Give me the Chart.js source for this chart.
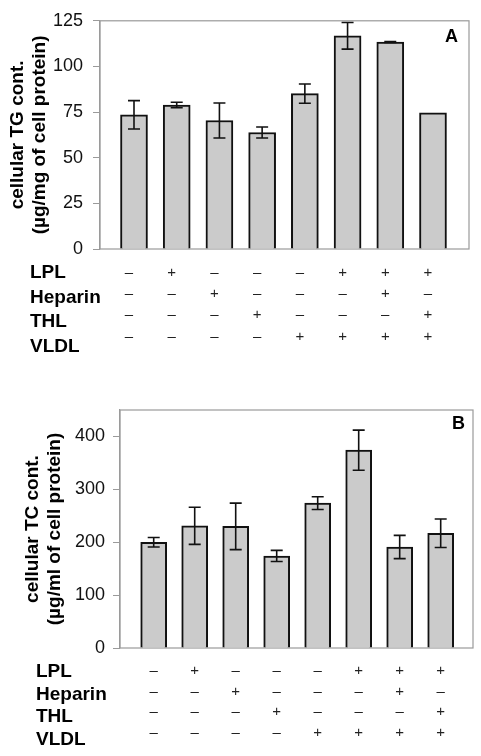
<!DOCTYPE html>
<html lang="en">
<head>
<meta charset="UTF-8">
<title>Cellular TG and TC content</title>
<script src="https://cdn.jsdelivr.net/npm/chart.js"></script>
<style>
  body { margin: 0; background: #fff; }
  canvas { position: absolute; left: 0; }
</style>
</head>
<body>
<canvas id="chartA" width="481" height="370" style="top:0"></canvas>
<canvas id="chartB" width="481" height="386" style="top:370px"></canvas>

<script>
// groups 1..8 (one per treatment column)
const groups = [1, 2, 3, 4, 5, 6, 7, 8];

// panel A - cellular TG
const tgValues = [73.5, 78.9, 70.4, 63.8, 85.1, 116.8, 113.4, 74.6];
const tgErrors = [7.8, 1.5, 9.6, 3.0, 5.3, 7.3, 0.3, 0];
const tgTicks = [0, 25, 50, 75, 100, 125];

// panel B - cellular TC
const tcValues = [200, 231, 230, 174, 274, 374, 191, 217];
const tcErrors = [9, 35, 44, 10.5, 12, 38, 22, 27];
const tcTicks = [0, 100, 200, 300, 400];

// treatment table under each panel
const rowLabels = ["LPL", "Heparin", "THL", "VLDL"];
const lpl     = ["–", "+", "–", "–", "–", "+", "+", "+"];
const heparin = ["–", "–", "+", "–", "–", "–", "+", "–"];
const thl     = ["–", "–", "–", "+", "–", "–", "–", "+"];
const vldl    = ["–", "–", "–", "–", "+", "+", "+", "+"];
const signRows = [lpl, heparin, thl, vldl];

Chart.defaults.font.family = "'Liberation Sans', Arial, sans-serif";

const panelPlugin = {
    id: "panel",
    beforeDatasetsDraw(chart, args, o) {
        // grey frame round the plot
        const a = chart.chartArea;
        const ctx = chart.ctx;
        ctx.save();
        ctx.strokeStyle = "#9a9a9a";
        ctx.lineWidth = 1.2;
        ctx.strokeRect(a.left, a.top, a.right - a.left, a.bottom - a.top);
        ctx.restore();
    },
    afterDatasetsDraw(chart, args, o) {
        const ctx = chart.ctx;
        const y = chart.scales.y;
        const vals = chart.data.datasets[0].data;
        const meta = chart.getDatasetMeta(0);
        ctx.save();
        ctx.strokeStyle = "#111";
        ctx.lineWidth = 1.6;
        meta.data.forEach((bar, i) => {
            const e = o.errors[i];
            if (!e) return;
            const v = vals[i].y;
            const top = y.getPixelForValue(v + e);
            const bot = y.getPixelForValue(v - e);
            ctx.beginPath();
            ctx.moveTo(bar.x, top); ctx.lineTo(bar.x, bot);
            ctx.moveTo(bar.x - 6, top); ctx.lineTo(bar.x + 6, top);
            ctx.moveTo(bar.x - 6, bot); ctx.lineTo(bar.x + 6, bot);
            ctx.stroke();
        });
        ctx.restore();
    },
    afterDraw(chart, args, o) {
        const ctx = chart.ctx;
        const a = chart.chartArea;
        const meta = chart.getDatasetMeta(0);
        ctx.save();
        // panel letter
        ctx.fillStyle = "#000";
        ctx.font = "bold 18px 'Liberation Sans', Arial";
        ctx.textAlign = "right";
        ctx.textBaseline = "middle";
        ctx.fillText(o.letter, a.right - o.letterInset, a.top + o.letterDrop);

        // treatment rows
        ctx.textAlign = "left";
        ctx.font = "bold 19px 'Liberation Sans', Arial";
        rowLabels.forEach((lab, r) => {
            ctx.fillText(lab, o.labelX, a.bottom + o.labelRows[r]);
        });
        ctx.textAlign = "center";
        ctx.font = "15px 'Liberation Sans', Arial";
        ctx.fillStyle = "#222";
        signRows.forEach((row, r) => {
            row.forEach((s, i) => {
                const bar = meta.data[i];
                ctx.fillText(s, bar.x + o.signShift, a.bottom + o.signRows[r]);
            });
        });
        ctx.restore();
    }
};

function makePanel(id, values, errors, ticks, cfg) {
    return new Chart(document.getElementById(id), {
        type: "bar",
        data: {
            datasets: [{
                data: groups.map((g, i) => ({ x: g, y: values[i] })),
                backgroundColor: "#cbcbcb",
                borderColor: "#111",
                borderWidth: 2,
                barThickness: cfg.barWidth
            }]
        },
        options: {
            responsive: false,
            animation: false,
            devicePixelRatio: 1,
            layout: { padding: cfg.padding },
            scales: {
                x: {
                    type: "linear",
                    offset: false,
                    min: cfg.xMin,
                    max: cfg.xMax,
                    display: false
                },
                y: {
                    min: 0,
                    max: cfg.yMax,
                    afterBuildTicks: s => { s.ticks = ticks.map(v => ({ value: v })); },
                    afterFit: s => { s.width = cfg.axisWidth; },
                    grid: { drawOnChartArea: false, tickLength: 7, color: "#9a9a9a" },
                    border: { color: "#9a9a9a", width: 1.2 },
                    ticks: { color: "#111", font: { size: 18 }, padding: cfg.tickPad },
                    title: {
                        display: true,
                        text: cfg.title,
                        color: "#000",
                        font: { size: 19, weight: "bold", lineHeight: 1.15 },
                        padding: { top: cfg.titlePad, bottom: 0 }
                    }
                }
            },
            plugins: {
                legend: { display: false },
                tooltip: { enabled: false },
                panel: cfg.panel
            }
        },
        plugins: [panelPlugin]
    });
}

makePanel("chartA", tgValues, tgErrors, tgTicks, {
    barWidth: 27,
    padding: { top: 13, right: 12, bottom: 121, left: 0 },
    xMin: 0.204, xMax: 8.843,
    yMax: 125,
    axisWidth: 100,
    tickPad: 10,
    titlePad: 7,
    title: ["cellular TG cont.", "(µg/mg of cell protein)"],
    panel: {
        errors: tgErrors,
        letter: "A", letterInset: 11, letterDrop: 16,
        labelX: 30, labelRows: [24, 49, 73, 98],
        signRows: [24, 45, 66, 88], signShift: -5
    }
});

makePanel("chartB", tcValues, tcErrors, tcTicks, {
    barWidth: 26,
    padding: { top: 40, right: 8, bottom: 108, left: 0 },
    xMin: 0.178, xMax: 8.788,
    yMax: 450,
    axisWidth: 120,
    tickPad: 8,
    titlePad: 22,
    title: ["cellular TC cont.", "(µg/ml of cell protein)"],
    panel: {
        errors: tcErrors,
        letter: "B", letterInset: 8, letterDrop: 14,
        labelX: 36, labelRows: [24, 47, 69, 92],
        signRows: [23, 44, 64, 85], signShift: 0
    }
});
</script>
</body>
</html>
